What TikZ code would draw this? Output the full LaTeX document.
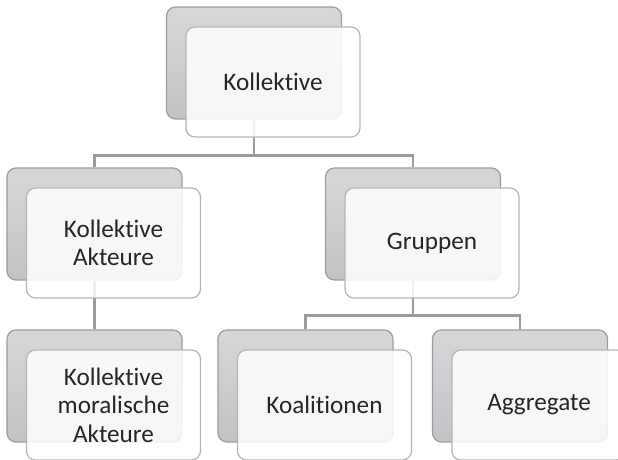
\documentclass[tikz,border=0pt]{standalone}
\usepackage{fontspec}
\setmainfont{Carlito}[Ligatures={NoCommon,NoContextual}]
\usetikzlibrary{positioning}

\definecolor{shadetop}{HTML}{D6D7D9}
\definecolor{shadebottom}{HTML}{C2C3C5}
\definecolor{edgegrey}{HTML}{9C9DA0}
\definecolor{framegrey}{HTML}{B4B5B8}
\definecolor{linkgrey}{HTML}{9A9B9E}
\definecolor{textdark}{HTML}{262626}

\tikzset{
    backbox/.style={draw=edgegrey, line width=0.6pt, rounded corners=4.5pt,
        top color=shadetop, bottom color=shadebottom,
        minimum width=87.5pt, minimum height=56pt, inner sep=0pt},
    frontbox/.style={draw=framegrey, line width=0.6pt, rounded corners=4.5pt,
        fill=white, fill opacity=0.86, text opacity=1, text=textdark,
        minimum width=87pt, minimum height=55pt, inner sep=2pt, align=center,
        font=\fontsize{12.6}{14.3}\selectfont, xshift=9.5pt, yshift=-9.5pt},
    link/.style={draw=linkgrey, line width=1.1pt},
}

\begin{document}
\begin{tikzpicture}[x=0.5pt, y=-0.5pt]
    \useasboundingbox (0,0) rectangle (618,460);

    % back boxes
    \node[backbox] (kollektive back)  at (254,63)    {};
    \node[backbox] (akteure back)     at (94.5,224)  {};
    \node[backbox] (gruppen back)     at (413,224)   {};
    \node[backbox] (moralisch back)   at (94.5,386)  {};
    \node[backbox] (koalitionen back) at (305.5,386) {};
    \node[backbox] (aggregate back)   at (520,386)   {};

    % connectors
    \draw[link] (kollektive back.south) -- ++(0,-18pt) -| (akteure back.north);
    \draw[link] (kollektive back.south) -- ++(0,-18pt) -| (gruppen back.north);
    \draw[link] (akteure back.south) -- (moralisch back.north);
    \draw[link] (gruppen back.south) -- ++(0,-17.5pt) -| (koalitionen back.north);
    \draw[link] (gruppen back.south) -- ++(0,-17.5pt) -| (aggregate back.north);

    % front boxes
    \node[frontbox] (kollektive)  at (kollektive back)  {Kollektive};
    \node[frontbox] (akteure)     at (akteure back)     {Kollektive\\Akteure};
    \node[frontbox] (gruppen)     at (gruppen back)     {Gruppen};
    \node[frontbox] (moralisch)   at (moralisch back)   {Kollektive\\moralische\\Akteure};
    \node[frontbox] (koalitionen) at (koalitionen back) {Koalitionen};
    \node[frontbox] (aggregate)   at (aggregate back)   {Aggregate};
\end{tikzpicture}
\end{document}
